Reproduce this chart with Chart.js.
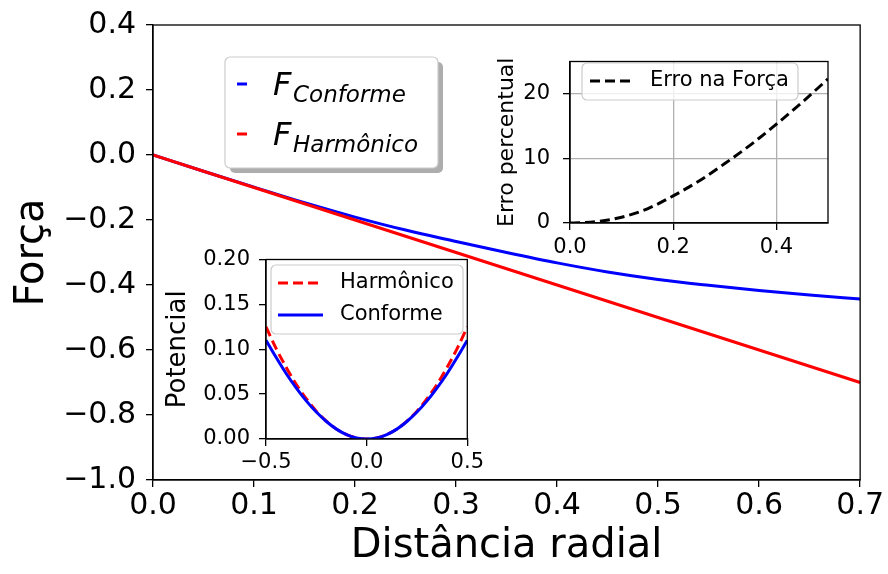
<!DOCTYPE html>
<html>
<head>
<meta charset="utf-8">
<script src="https://cdn.jsdelivr.net/npm/chart.js@4.4.0/dist/chart.umd.min.js"></script>
<style>
body{margin:0;background:#fff}
#wrap{position:relative;width:888px;height:574px}
canvas{position:absolute}
</style>
</head>
<body>
<div id="wrap">
<canvas id="main" width="888" height="574" style="left:0;top:0"></canvas>
<canvas id="erro" width="360" height="230" style="left:488px;top:38px"></canvas>
<canvas id="pot" width="332" height="245" style="left:158px;top:240px"></canvas>
</div>
<script>
// data
const radial = [0,0.05,0.1,0.15,0.2,0.25,0.3,0.35,0.4,0.45,0.5,0.55,0.6,0.65,0.7]
const forceConforme = [0,-0.050,-0.099,-0.147,-0.191,-0.231,-0.266,-0.300,-0.332,-0.360,-0.383,-0.401,-0.417,-0.431,-0.443]
const forceHarmonico = [0,-0.05,-0.1,-0.15,-0.2,-0.25,-0.3,-0.35,-0.4,-0.45,-0.5,-0.55,-0.6,-0.65,-0.7]
const mainLegend = ['Conforme','Harmônico']

const errR = [0,0.05,0.1,0.15,0.2,0.25,0.3,0.35,0.4,0.45,0.5]
const errPct = [0,0.2,0.9,2.2,4.2,6.5,9.2,12.1,15.3,18.7,22.3]

const potX = [-0.5,-0.45,-0.4,-0.35,-0.3,-0.25,-0.2,-0.15,-0.1,-0.05,0,0.05,0.1,0.15,0.2,0.25,0.3,0.35,0.4,0.45,0.5]
const potHarmonico = [0.125,0.101,0.080,0.061,0.045,0.031,0.020,0.011,0.005,0.0012,0,0.0012,0.005,0.011,0.020,0.031,0.045,0.061,0.080,0.101,0.125]
const potConforme = [0.110,0.091,0.073,0.057,0.0425,0.030,0.0195,0.011,0.0049,0.0012,0,0.0012,0.0049,0.011,0.0195,0.030,0.0425,0.057,0.073,0.091,0.110]

Chart.defaults.font.family = '"DejaVu Sans", sans-serif'
Chart.defaults.color = '#000'
Chart.defaults.animation = false

const pts = (xs, ys) => xs.map((x,i) => ({x:x, y:ys[i]}))
const fmt = (v, d) => Math.abs(v) < 1e-9 ? (0).toFixed(d) : v.toFixed(d).replace('-', '\u2212')

// white plot area + full frame like matplotlib
const frame = {
    id:'frame',
    beforeDraw(chart){
        const a = chart.chartArea, c = chart.ctx
        c.save()
        c.fillStyle = '#fff'
        c.fillRect(a.left, a.top, a.right-a.left, a.bottom-a.top)
        c.restore()
    },
    afterDraw(chart){
        const a = chart.chartArea, c = chart.ctx
        c.save()
        c.strokeStyle = '#000'
        c.lineWidth = 1.3
        c.strokeRect(a.left, a.top, a.right-a.left, a.bottom-a.top)
        c.restore()
    }
}

// legend box drawn inside the axes
const boxLegend = {
    id:'boxLegend',
    afterDatasetsDraw(chart, args, o){
        if(!o.box) return
        const c = chart.ctx
        const [bx,by,bw,bh] = o.box
        c.save()
        if(o.shadow){
            c.fillStyle = '#adadad'
            c.beginPath(); c.roundRect(bx+5, by+5, bw, bh, 5); c.fill()
        }
        c.fillStyle = o.shadow ? '#fff' : 'rgba(255,255,255,0.8)'
        c.strokeStyle = '#cccccc'
        c.lineWidth = 1.2
        c.beginPath(); c.roundRect(bx, by, bw, bh, 5); c.fill(); c.stroke()
        o.rows.forEach((di, k) => {
            const ds = chart.data.datasets[di]
            const y = o.rowY[k]
            c.strokeStyle = ds.borderColor
            c.lineWidth = ds.borderWidth
            c.setLineDash(ds.borderDash || [])
            c.beginPath()
            c.moveTo(o.handle[0], y + (o.handleDy || 0))
            c.lineTo(o.handle[1], y + (o.handleDy || 0))
            c.stroke()
            c.setLineDash([])
            c.fillStyle = '#000'
            if(o.math){
                c.textBaseline = 'alphabetic'
                c.font = 'italic 32px "DejaVu Sans"'
                c.fillText('F', o.textX, y)
                c.font = 'italic 23px "DejaVu Sans"'
                c.fillText(o.subs[k], o.textX + 20, y + 6.5)
            } else {
                c.textBaseline = 'middle'
                c.font = '21px "DejaVu Sans"'
                c.fillText(ds.label, o.textX, y)
            }
        })
        c.restore()
    }
}

const axis = (min, max, step, dec, size, pad, extra) => Object.assign({
    type:'linear', min:min, max:max,
    ticks:{stepSize:step, includeBounds:false, autoSkip:false, maxRotation:0, padding:pad,
        font:{size:size, lineHeight:1}, callback: v => fmt(v, dec)},
    grid:{drawOnChartArea:false, color:'#000', lineWidth:1.3, tickLength:7},
    border:{color:'#000', width:1.3}
}, extra)

// main chart
new Chart(document.getElementById('main').getContext('2d'), {
    type:'line',
    data:{datasets:[
        {label:'F Conforme', data:pts(radial, forceConforme), borderColor:'#0000ff', borderWidth:3, pointRadius:0, cubicInterpolationMode:'monotone', order:1},
        {label:'F Harmônico', data:pts(radial, forceHarmonico), borderColor:'#ff0000', borderWidth:3, pointRadius:0, order:0}
    ]},
    options:{
        responsive:false,
        layout:{padding:{top:22, right:26, left:0, bottom:0}},
        plugins:{
            legend:{display:false}, tooltip:{enabled:false},
            boxLegend:{box:[225,57,213,111], shadow:true, rows:[0,1], rowY:[95,145], handle:[237,247], handleDy:-11, textX:273, math:true, subs:mainLegend}
        },
        scales:{
            x: axis(0, 0.7, 0.1, 1, 30, 4, {
                afterFit: s => { s.height = 94 },
                title:{display:true, text:'Distância radial', font:{size:40}, padding:{top:0, bottom:3}}
            }),
            y: axis(-1, 0.4, 0.2, 1, 30, 10, {
                afterFit: s => { s.width = 153 },
                title:{display:true, text:'Força', font:{size:40}, padding:{top:9, bottom:0}}
            })
        }
    },
    plugins:[frame, boxLegend]
})

// inset: percentage error
const errX = axis(0, 0.5, 0.2, 1, 21, 7, {afterFit: s => { s.height = 45 }})
const errY = axis(0, 25, 10, 0, 21, 13, {
    afterFit: s => { s.width = 82 },
    title:{display:true, text:'Erro percentual', font:{size:22}, padding:{top:6, bottom:0}}
})
errX.grid = {color:'#b0b0b0', tickColor:'#000', lineWidth:1.3, tickLength:7}
errY.grid = {color:'#b0b0b0', tickColor:'#000', lineWidth:1.3, tickLength:7}
new Chart(document.getElementById('erro').getContext('2d'), {
    type:'line',
    data:{datasets:[
        {label:'Erro na Força', data:pts(errR, errPct), borderColor:'#000', borderWidth:3, borderDash:[10,5], pointRadius:0, cubicInterpolationMode:'monotone'}
    ]},
    options:{
        responsive:false,
        layout:{padding:{top:15, right:20, left:0, bottom:0}},
        plugins:{
            legend:{display:false}, tooltip:{enabled:false},
            boxLegend:{box:[94,25,216,37], rows:[0], rowY:[43], handle:[102,144], textX:162}
        },
        scales:{x:errX, y:errY}
    },
    plugins:[frame, boxLegend]
})

// inset: potential
new Chart(document.getElementById('pot').getContext('2d'), {
    type:'line',
    data:{datasets:[
        {label:'Harmônico', data:pts(potX, potHarmonico), borderColor:'#ff0000', borderWidth:3, borderDash:[10,5], pointRadius:0, cubicInterpolationMode:'monotone', order:1},
        {label:'Conforme', data:pts(potX, potConforme), borderColor:'#0000ff', borderWidth:3, pointRadius:0, cubicInterpolationMode:'monotone', order:0}
    ]},
    options:{
        responsive:false,
        layout:{padding:{top:15, right:21, left:0, bottom:0}},
        plugins:{
            legend:{display:false}, tooltip:{enabled:false},
            boxLegend:{box:[113,25,192,69], rows:[0,1], rowY:[43,75], handle:[120,165], textX:182}
        },
        scales:{
            x: axis(-0.5, 0.5, 0.5, 1, 21, 6, {afterFit: s => { s.height = 46 }}),
            y: axis(0, 0.2, 0.05, 2, 21, 9, {
                afterFit: s => { s.width = 108 },
                title:{display:true, text:'Potencial', font:{size:26}, padding:{top:5, bottom:0}}
            })
        }
    },
    plugins:[frame, boxLegend]
})
</script>
</body>
</html>
